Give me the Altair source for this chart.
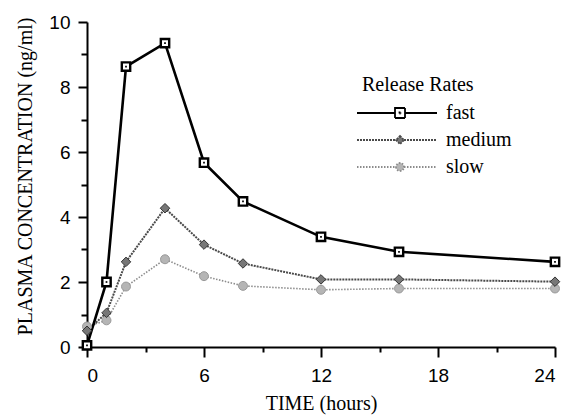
import altair as alt
import pandas as pd

times = [0, 1, 2, 4, 6, 8, 12, 16, 24]
fast = [0.05, 2.0, 8.63, 9.35, 5.67, 4.48, 3.39, 2.93, 2.62]
medium = [0.5, 1.05, 2.62, 4.27, 3.15, 2.57, 2.08, 2.08, 2.01]
slow = [0.63, 0.82, 1.86, 2.70, 2.18, 1.88, 1.76, 1.80, 1.80]
rates = ["fast", "medium", "slow"]

rows = []
for name, vals in zip(rates, [fast, medium, slow]):
    for t, v in zip(times, vals):
        rows.append({"rate": name, "time": t, "conc": v})
df = pd.DataFrame(rows)

x_enc = alt.X("time:Q", scale=alt.Scale(domain=[0, 24], nice=False),
              axis=alt.Axis(values=[0, 3, 6, 9, 12, 15, 18, 21, 24],
                            labelExpr="datum.value % 6 == 0 ? datum.label : ''",
                            tickSize={"condition": {"test": "datum.value % 6 == 0", "value": 10}, "value": 5},
                            labelPadding=9, title="TIME (hours)", titlePadding=8))
y_enc = alt.Y("conc:Q", scale=alt.Scale(domain=[0, 10], nice=False),
              axis=alt.Axis(values=list(range(0, 11)),
                            labelExpr="datum.value % 2 == 0 ? datum.label : ''",
                            tickSize={"condition": {"test": "datum.value % 2 == 0", "value": 9}, "value": 6},
                            labelPadding=8, title="PLASMA CONCENTRATION (ng/ml)",
                            titleX=-62, titleY=154, titleBaseline="middle"))

line_styles = {
    "fast": dict(color="#000000", strokeWidth=2.6),
    "medium": dict(color="#4a4a4a", strokeWidth=2.0, strokeDash=[2, 1]),
    "slow": dict(color="#8c8c8c", strokeWidth=1.6, strokeDash=[1.5, 1.5]),
}
point_styles = {
    "fast": dict(shape="square", size=70, filled=True, fill="white", stroke="black", strokeWidth=2.4, opacity=1),
    "medium": dict(shape="diamond", size=90, filled=True, fill="#777777", stroke="#333333", strokeWidth=1, opacity=1),
    "slow": dict(shape="circle", size=80, filled=True, fill="#b5b5b5", stroke="#9a9a9a", strokeWidth=1, opacity=1),
}

base = alt.Chart(df)
layers = []
for r in ["slow", "medium", "fast"]:
    layers.append(base.transform_filter(alt.datum.rate == r).mark_line(**line_styles[r]).encode(x=x_enc, y=y_enc))
for r in ["slow", "medium", "fast"]:
    layers.append(base.transform_filter(alt.datum.rate == r).mark_point(**point_styles[r]).encode(x=x_enc, y=y_enc))
# centre dot of the hollow squares
layers.append(base.transform_filter(alt.datum.rate == "fast").mark_point(
    shape="square", size=3, filled=True, color="black", opacity=1).encode(x=x_enc, y=y_enc))

legend_paths = [
    "M-3,0H4.6M6.6,0H13M4.6,-1H6.6V1H4.6ZM5.5,-0.1H5.7V0.1H5.5Z",
    "M-3,0H4.8M6.4,0H13M5.6,-0.8L6.4,0L5.6,0.8L4.8,0Z",
    "M-3,0H4.8M6.4,0H13M4.8,0A0.8,0.8 0 1,0 6.4,0A0.8,0.8 0 1,0 4.8,0Z",
]
legend = alt.Legend(title="Release Rates", orient="none", legendX=275, legendY=53,
                    symbolSize=100, symbolStrokeWidth=1.8,
                    symbolOpacity=1, labelOffset=64, rowPadding=7, titlePadding=8, padding=0)
legend_layer = base.mark_point(filled=True, opacity=0).encode(
    x=x_enc, y=y_enc,
    shape=alt.Shape("rate:N", scale=alt.Scale(domain=rates, range=legend_paths), legend=legend),
    stroke=alt.Stroke("rate:N", scale=alt.Scale(domain=rates, range=["#000000", "#4a4a4a", "#8c8c8c"]),
                      legend=alt.Legend(title="Release Rates")),
    fill=alt.Fill("rate:N", scale=alt.Scale(domain=rates, range=["#ffffff", "#777777", "#b5b5b5"]),
                  legend=alt.Legend(title="Release Rates")),
    strokeDash=alt.StrokeDash("rate:N", scale=alt.Scale(domain=rates, range=[[1, 0], [2, 1], [1.5, 1.5]]),
                              legend=alt.Legend(title="Release Rates")),
)

chart = alt.layer(*layers, legend_layer).properties(
    width=468, height=325,
    autosize=alt.AutoSizeParams(type="none"),
    padding={"left": 79, "top": 14, "right": 6, "bottom": 68},
).configure_view(stroke=None).configure_axis(
    domainColor="black", domainWidth=2, tickColor="black", tickWidth=2, grid=False,
    labelFont="Liberation Sans", labelFontSize=19, labelColor="black",
    titleFont="Liberation Serif", titleFontSize=20, titleFontWeight="normal", titleColor="black",
).configure_legend(
    titleFont="Liberation Serif", titleFontSize=20, titleFontWeight="normal", titleColor="black",
    labelFont="Liberation Serif", labelFontSize=20, labelColor="black",
)

chart.save("out.html", embed_options={"renderer": "svg", "actions": False})
